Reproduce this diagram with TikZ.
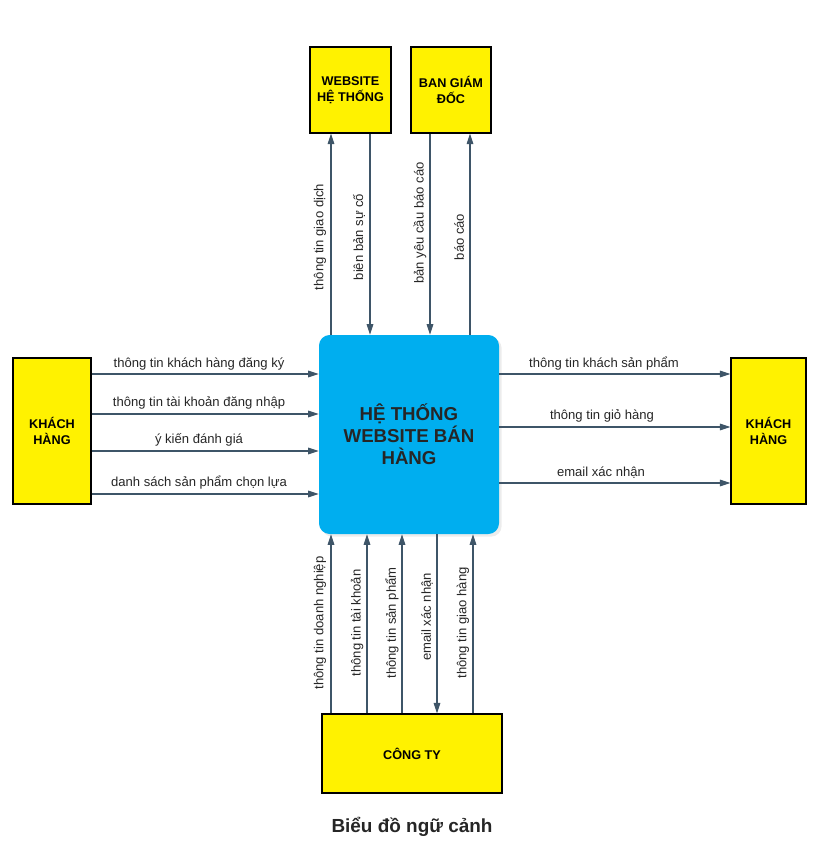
\documentclass[tikz,border=0pt]{standalone}
\usepackage{fontspec}
\setmainfont{Liberation Sans}
\usetikzlibrary{arrows.meta,shadows}

\definecolor{flowc}{HTML}{3E5568}
\definecolor{sysc}{HTML}{00AEEF}

\tikzset{
  ent/.style={draw=black, fill=yellow, line width=0.8pt, align=center, inner sep=0pt,
    font=\bfseries\fontsize{9.5}{12}\selectfont},
  flow/.style={draw=flowc, line width=0.8pt, -{Triangle[length=8pt,width=5pt]}},
  lbl/.style={font=\fontsize{9.8}{11}\selectfont, text=black!85, inner sep=0.75pt},
}

\begin{document}
\begin{tikzpicture}[x=0.75pt,y=0.75pt,yscale=-1,xscale=1]
\useasboundingbox (0,0) rectangle (817,857);

% External entities
\node [ent, minimum width=60.75pt, minimum height=64.5pt] (web) at (350.5,90) {WEBSITE\\HỆ THỐNG};
\node [ent, minimum width=60pt, minimum height=64.5pt] (bgd) at (451,90) {BAN GIÁM\\ĐỐC};
\node [ent, minimum width=58.5pt, minimum height=109.5pt] (khL) at (52,431) {KHÁCH\\HÀNG};
\node [ent, minimum width=56.25pt, minimum height=109.5pt] (khR) at (768.5,431) {KHÁCH\\HÀNG};
\node [ent, minimum width=135pt, minimum height=59.25pt] (cty) at (412,753.5) {CÔNG TY};

% Process
\node [fill=sysc, rounded corners=8pt, minimum width=135pt, minimum height=149.25pt,
  drop shadow={opacity=0.15, shadow xshift=2pt, shadow yshift=-2pt},
  align=center, font=\bfseries\fontsize{14}{16.5}\selectfont, text=black!85] (ht) at (409,434.5)
  {HỆ THỐNG\\WEBSITE BÁN\\HÀNG};

% Flows: top
\draw [flow] (ht.north -| 331,0) -- (web.south -| 331,0);
\draw [flow] (web.south -| 370,0) -- (ht.north -| 370,0);
\draw [flow] (bgd.south -| 430,0) -- (ht.north -| 430,0);
\draw [flow] (ht.north -| 470,0) -- (bgd.south -| 470,0);

\node [lbl, rotate=90] (t1) at (320,237) {thông tin giao dịch};
\node [lbl, rotate=90] (t2) at (359,237) {biên bản sự cố};
\node [lbl, rotate=90] (t3) at (420,223) {bản yêu cầu báo cáo};
\node [lbl, rotate=90] (t4) at (459,237) {báo cáo};

% Flows: left
\draw [flow] (khL.east |- 0,374) -- (ht.west |- 0,374);
\draw [flow] (khL.east |- 0,414) -- (ht.west |- 0,414);
\draw [flow] (khL.east |- 0,451) -- (ht.west |- 0,451);
\draw [flow] (khL.east |- 0,494) -- (ht.west |- 0,494);

\node [lbl] (l1) at (199,364) {thông tin khách hàng đăng ký};
\node [lbl] (l2) at (199,403) {thông tin tài khoản đăng nhập};
\node [lbl] (l3) at (199,440) {ý kiến đánh giá};
\node [lbl] (l4) at (199,483) {danh sách sản phẩm chọn lựa};

% Flows: right
\draw [flow] (ht.east |- 0,374) -- (khR.west |- 0,374);
\draw [flow] (ht.east |- 0,427) -- (khR.west |- 0,427);
\draw [flow] (ht.east |- 0,483) -- (khR.west |- 0,483);

\node [lbl] (r1) at (604,364) {thông tin khách sản phẩm};
\node [lbl] (r2) at (602,416) {thông tin giỏ hàng};
\node [lbl] (r3) at (601,473) {email xác nhận};

% Flows: bottom
\draw [flow] (cty.north -| 331,0) -- (ht.south -| 331,0);
\draw [flow] (cty.north -| 367,0) -- (ht.south -| 367,0);
\draw [flow] (cty.north -| 402,0) -- (ht.south -| 402,0);
\draw [flow] (ht.south -| 437,0) -- (cty.north -| 437,0);
\draw [flow] (cty.north -| 473,0) -- (ht.south -| 473,0);

\node [lbl, rotate=90] (b1) at (320,623) {thông tin doanh nghiệp};
\node [lbl, rotate=90] (b2) at (357,623) {thông tin tài khoản};
\node [lbl, rotate=90] (b3) at (392,623) {thông tin sản phẩm};
\node [lbl, rotate=90] (b4) at (427,617) {email xác nhận};
\node [lbl, rotate=90] (b5) at (463,623) {thông tin giao hàng};

% Title
\node [font=\bfseries\fontsize{14.2}{16}\selectfont, text=black!85] (title) at (412,827) {Biểu đồ ngữ cảnh};
\end{tikzpicture}
\end{document}
